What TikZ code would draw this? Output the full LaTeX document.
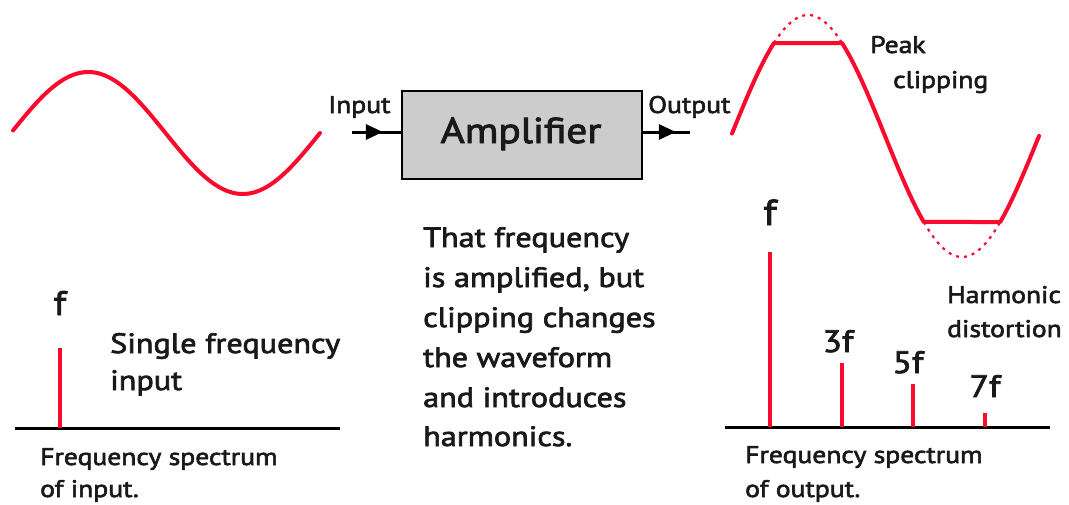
\documentclass[tikz,border=0pt]{standalone}
\usepackage{fontspec}
\setmainfont{PT Sans}[FakeStretch=1.15, FakeBold=2.5]
\usetikzlibrary{arrows.meta,decorations.markings}
\definecolor{wavered}{RGB}{250,10,45}
\definecolor{boxgray}{RGB}{204,204,204}
\definecolor{ink}{RGB}{25,25,25}
\tikzset{
  wave/.style={draw=wavered, line width=4pt, line cap=round, line join=round},
  clipdash/.style={draw=wavered, line width=2.2pt, dash pattern=on 3pt off 5pt},
  specline/.style={draw=wavered, line width=4pt},
  axisline/.style={draw=black, line width=3pt},
  lbl/.style={inner sep=0pt, text=ink, anchor=base west, font=\fontsize{24}{30}\selectfont},
  biglbl/.style={inner sep=0pt, text=ink, anchor=base west, font=\fontsize{28}{40}\selectfont},
  freq/.style={inner sep=0pt, text=ink, anchor=base, font=\fontsize{31}{34}\selectfont},
  ampbox/.style={draw=black, line width=2pt, fill=boxgray, minimum width=240pt, minimum height=88pt, inner sep=0pt},
  midarrow/.style={draw=black, line width=3pt, decoration={markings, mark=at position #1 with {\arrow{Triangle[length=17pt,width=15pt]}}}, postaction={decorate}}
}
\begin{document}
\begin{tikzpicture}[x=1pt,y=-1pt]
\useasboundingbox (0,0) rectangle (1069,504);
% input sine
\draw[wave] plot[domain=13:320, samples=120, smooth] (\x, {133-61*sin((\x-11)/309*360)});
% amplifier
\node[ampbox] (amp) at (522,135) {};
\node[anchor=base, inner sep=0pt, text=ink, font=\fontsize{36}{40}\selectfont] (amptext) at (521,143) {Amplifier};
\node[lbl] (inlbl) at (328,113) {Input};
\node[lbl] (outlbl) at (648,113) {Output};
\coordinate (ina) at (352,132);
\coordinate (outb) at (690,132);
\draw[midarrow=0.63] (ina) -- (amp.west |- ina);
\draw[midarrow=0.7] (amp.east |- outb) -- (outb);
% output clipped sine
\draw[wave] plot[domain=732:773.97, samples=30, smooth] (\x, {136-121*sin((\x-731)/308*360)})
  -- plot[domain=842.03:923.75, samples=50, smooth] (\x, {136-121*sin((\x-731)/308*360)})
  -- plot[domain=1000.25:1039, samples=30, smooth] (\x, {136-121*sin((\x-731)/308*360)});
\draw[clipdash] plot[domain=773.97:842.03, samples=40, smooth] (\x, {136-121*sin((\x-731)/308*360)});
\draw[clipdash] plot[domain=923.75:1000.25, samples=40, smooth] (\x, {136-121*sin((\x-731)/308*360)});
\node[lbl] (peak) at (870,53) {Peak};
\node[lbl] (clipping) at (893,88) {clipping};
% middle text
\node[biglbl] (m1) at (423,247) {That frequency};
\node[biglbl] (m2) at (423,287) {is amplified, but};
\node[biglbl] (m3) at (423,327) {clipping changes};
\node[biglbl] (m4) at (423,367) {the waveform};
\node[biglbl] (m5) at (423,407) {and introduces};
\node[biglbl] (m6) at (423,446) {harmonics.};
% input spectrum
\draw[axisline] (15,428) -- (340,428);
\draw[specline] (60,348) -- (60,428);
\node[freq, font=\fontsize{34}{38}\selectfont] (fin) at (60,315) {f};
\node[biglbl] (single1) at (110,353) {Single frequency};
\node[biglbl] (single2) at (110,390) {input};
\node[lbl] (fsin1) at (40,465) {Frequency spectrum};
\node[lbl] (fsin2) at (40,497) {of input.};
% output spectrum
\draw[axisline] (725,427) -- (1050,427);
\draw[specline] (770,252) -- (770,427);
\draw[specline] (842,363) -- (842,427);
\draw[specline] (913,384) -- (913,427);
\draw[specline] (985,413) -- (985,427);
\node[freq, font=\fontsize{36}{40}\selectfont] (fout) at (770,225) {f};
\node[freq] (f3) at (838,352) {3f};
\node[freq] (f5) at (908,373) {5f};
\node[freq] (f7) at (985,397) {7f};
\node[lbl] (harm1) at (947,303) {Harmonic};
\node[lbl] (harm2) at (947,337) {distortion};
\node[lbl] (fsout1) at (745,463) {Frequency spectrum};
\node[lbl] (fsout2) at (745,497) {of output.};
\end{tikzpicture}
\end{document}
